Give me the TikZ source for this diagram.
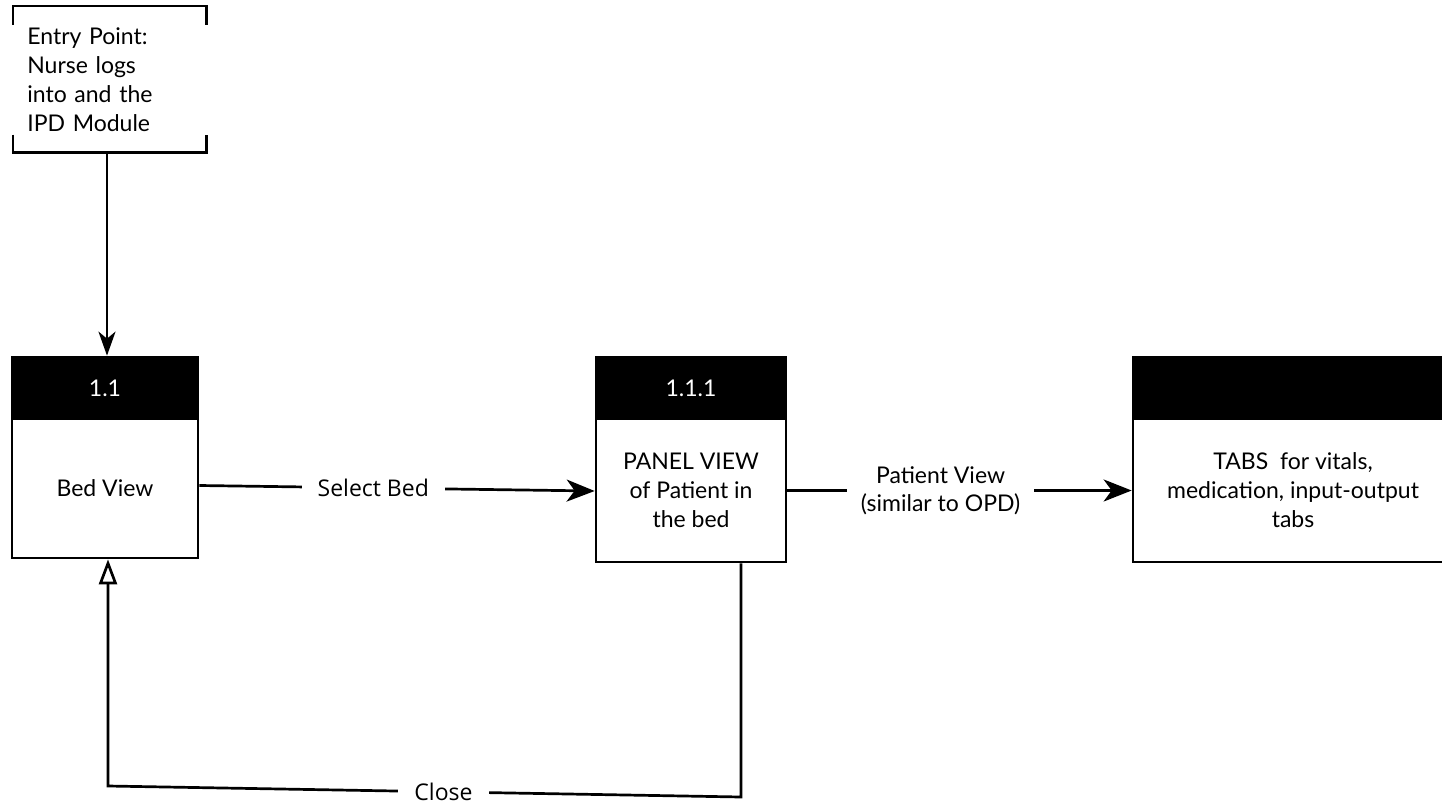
\documentclass[tikz,border=0pt]{standalone}
\usepackage{fontspec}
\setmainfont{Lato}
\newfontfamily\lblfont{Open Sans}
\usetikzlibrary{arrows.meta}
\begin{document}
\begin{tikzpicture}[x=1pt,y=-1pt,line width=2.7pt,
  boxtxt/.style={font=\fontsize{23}{29}\selectfont, align=center},
  header/.style={draw, fill=black, text=white, rectangle, minimum height=62pt, inner sep=0pt, font=\fontsize{23}{29}\selectfont},
  body/.style={draw, fill=white, rectangle, inner sep=0pt, boxtxt},
  lbl/.style={fill=white, inner xsep=16pt, inner ysep=2pt, font=\lblfont\fontsize{23}{28}\selectfont, align=center},
  bigarrow/.style={-{Stealth[length=28pt,width=22pt,inset=8pt]}},
  smallarrow/.style={-{Stealth[length=24pt,width=17pt,inset=7pt]}},
  openarrow/.style={-{Triangle[open,length=25pt,width=18pt,fill=white]}}]
\clip (0,0) rectangle (1442,808);
\useasboundingbox (0,0) rectangle (1442,808);
% entry bracket
\node (entry) [rectangle, anchor=north west, minimum width=191pt, minimum height=144pt,
  text width=165pt, inner xsep=13pt, align=left, font=\fontsize{23}{29}\selectfont] at (13,6)
  {Entry Point:\\Nurse logs\\into and the\\IPD Module};
\draw ([yshift=-19pt]entry.north west) -- (entry.north west) -- (entry.north east) -- ([yshift=-19pt]entry.north east);
\draw ([yshift=18pt]entry.south west) -- (entry.south west) -- (entry.south east) -- ([yshift=18pt]entry.south east);
% boxes
\node (b1h) [header, minimum width=186pt] at (105,388) {1.1};
\node (b1) [body, minimum width=186pt, minimum height=139pt] at (105,488.5) {Bed View};
\node (b2h) [header, minimum width=190pt] at (691,388) {1.1.1};
\node (b2) [body, minimum width=190pt, minimum height=143pt] at (691,490.5) {PANEL VIEW\\of Patient in\\the bed};
\node (b3h) [header, minimum width=320pt] at (1293,388) {};
\node (b3) [body, minimum width=320pt, minimum height=143pt] at (1293,490.5) {TABS\ \ for vitals,\\medication, input-output\\tabs};
% connectors
\draw[smallarrow] (entry.south -| 107,0) -- (b1h.north -| 107,0);
\draw[bigarrow] ([yshift=3pt]b1.east) -- node[lbl, pos=0.44] {Select Bed} ([yshift=-0.5pt]b2.west);
\draw[bigarrow] (b2.east) -- node[lbl, pos=0.445, inner xsep=14pt, font=\fontsize{23}{28}\selectfont] {Patient View\\(similar to OPD)} (b3.west);
\coordinate (c1) at (741,797);
\coordinate (c2) at (108,786);
\draw[openarrow] (b2.south -| c1) -- (c1) -- node[lbl, pos=0.47] {Close} (c2) -- (c2 |- b1.south);
\end{tikzpicture}
\end{document}
